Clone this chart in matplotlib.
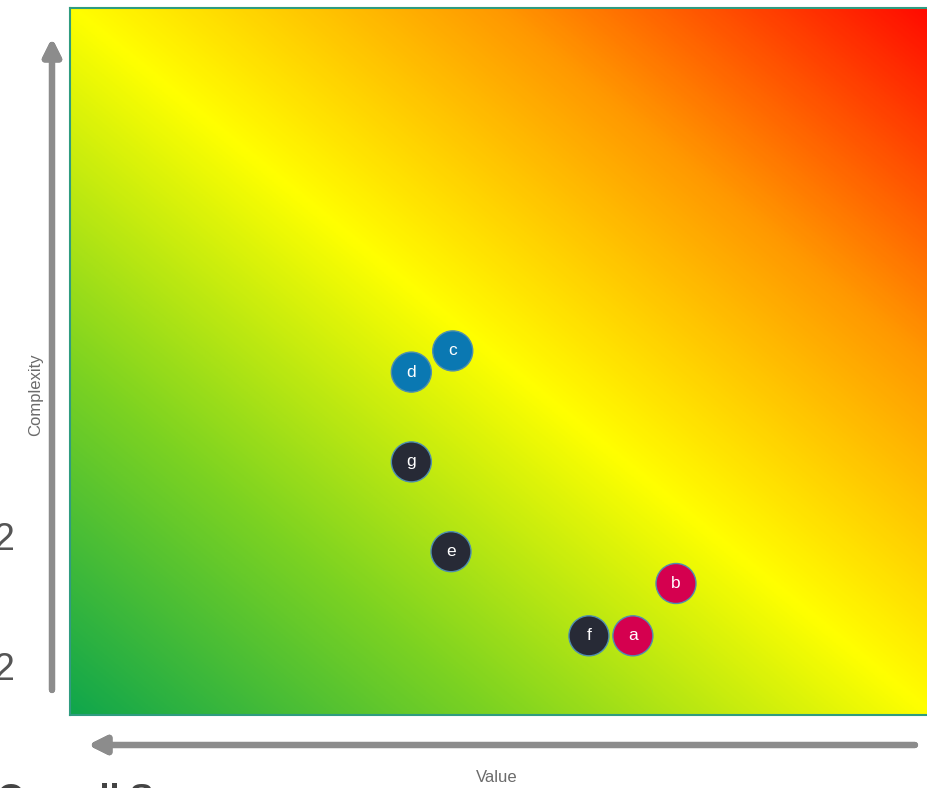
import numpy as np
import matplotlib.pyplot as plt
from matplotlib.colors import LinearSegmentedColormap

plt.rcParams['font.family'] = ['Liberation Sans', 'DejaVu Sans']

# items placed on the value / complexity grid (0-10 on both axes)
labels = ['a', 'b', 'c', 'd', 'e', 'f', 'g']
value = [6.53, 7.03, 4.44, 3.96, 4.42, 6.02, 3.96]
complexity = [1.12, 1.86, 5.15, 4.85, 2.31, 1.12, 3.58]
groups = ['red', 'red', 'blue', 'blue', 'dark', 'dark', 'dark']
group_colors = {'red': '#d5004f', 'blue': '#0a78b2', 'dark': '#272a36'}

W, H = 928, 788
fig = plt.figure(figsize=(W / 100, H / 100), dpi=100)

# main panel
ax = fig.add_axes([70 / W, 1 - 715 / H, 862 / W, 707 / H])
ax.set_xlim(0, 10)
ax.set_ylim(0, 10)

# diagonal green -> yellow -> red background
cmap = LinearSegmentedColormap.from_list('risk', [
    (0.0, '#10a64c'),
    (0.25, '#7ed321'),
    (0.5, '#ffff00'),
    (0.75, '#ff9800'),
    (1.0, '#ff0a00'),
])
gx, gy = np.meshgrid(np.linspace(0, 1, 400), np.linspace(0, 1, 400))
ax.imshow((gx + gy) / 2, cmap=cmap, origin='lower', extent=[0, 10, 0, 10],
          aspect='auto', vmin=0, vmax=1, interpolation='bilinear')

for s in ax.spines.values():
    s.set_color('#2f9c80')
    s.set_linewidth(1.5)
ax.set_xticks([])
ax.set_yticks([])

cols = [group_colors[g] for g in groups]
ax.scatter(value, complexity, s=830, c=cols, edgecolors='#4f8fae',
           linewidths=1, zorder=3)
for lab, x, y in zip(labels, value, complexity):
    ax.text(x, y, lab, color='white', fontsize=12.5, ha='center', va='center',
            zorder=4)

# axis arrows drawn in figure pixels
arrow = dict(arrowstyle='-|>', lw=4.5, color='#8c8c8c', mutation_scale=26,
             shrinkA=0, shrinkB=0)
fig.add_artist(plt.annotate('', xy=(52, H - 38), xytext=(52, H - 690),
                            xycoords='figure pixels', textcoords='figure pixels',
                            arrowprops=arrow))
fig.add_artist(plt.annotate('', xy=(88, H - 745), xytext=(915, H - 745),
                            xycoords='figure pixels', textcoords='figure pixels',
                            arrowprops=arrow))

fig.text(36 / W, 1 - 395 / H, 'Complexity', rotation=90, ha='center',
         va='center', fontsize=12, color='#6b6b6b')
fig.text(497 / W, 1 - 778 / H, 'Value', ha='center', va='center',
         fontsize=12, color='#6b6b6b')

# slide text running off the left and bottom edges
fig.text(-7 / W, 1 - 540 / H, '2', ha='left', va='center', fontsize=27,
         color='#555555')
fig.text(-7 / W, 1 - 670 / H, '2', ha='left', va='center', fontsize=27,
         color='#555555')
fig.text(-3 / W, 1 - 783 / H, 'Overall Score', ha='left', va='top',
         fontsize=26, fontweight='bold', color='#444444')

fig.savefig('out.png', dpi=100)
